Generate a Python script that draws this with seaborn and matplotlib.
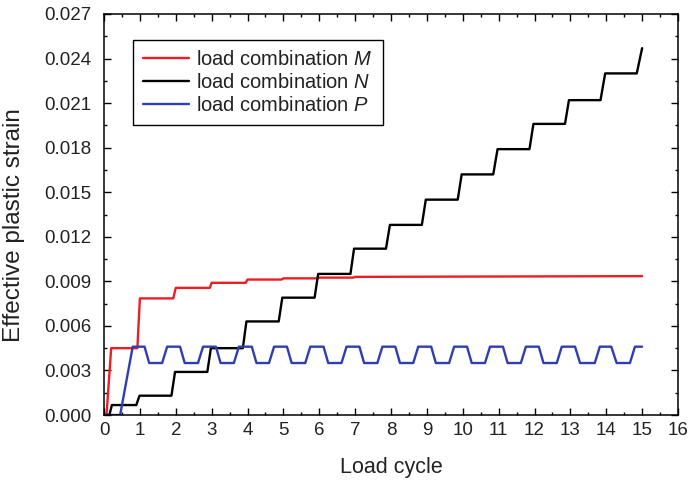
import matplotlib
matplotlib.use("Agg")
import matplotlib.pyplot as plt
from matplotlib.ticker import MultipleLocator, FormatStrFormatter
import seaborn as sns

# load combination M
red_x = [0.0, 0.07, 0.20, 0.93, 1.00, 1.93, 2.00, 2.95, 3.00, 3.95, 4.00,
         4.95, 5.00, 5.95, 6.00, 6.95, 7.00, 15.0]
red_y = [0.0, 0.0, 0.0045, 0.0045, 0.00785, 0.00785, 0.00856, 0.00856,
         0.0089, 0.0089, 0.00912, 0.00912, 0.0092, 0.0092, 0.00925, 0.00925,
         0.0093, 0.00935]

# load combination N
black_x = [0.0, 0.15, 0.22, 0.90, 0.99, 1.88, 1.98, 2.88, 2.98, 3.87, 3.97,
           4.87, 4.97, 5.87, 5.97, 6.87, 6.97, 7.86, 7.97, 8.86, 8.97, 9.86,
           9.97, 10.85, 10.97, 11.86, 11.97, 12.85, 12.96, 13.84, 13.97,
           14.85, 15.0]
black_y = [0.0, 0.0, 0.00067, 0.00067, 0.0013, 0.0013, 0.0029, 0.0029,
           0.0045, 0.0045, 0.0063, 0.0063, 0.0079, 0.0079, 0.0095, 0.0095,
           0.0112, 0.0112, 0.0128, 0.0128, 0.0145, 0.0145, 0.0162, 0.0162,
           0.0179, 0.0179, 0.0196, 0.0196, 0.0212, 0.0212, 0.0230, 0.0230,
           0.0247]

# load combination P
blue_x = [0.0, 0.45, 0.80,
          1.13, 1.26, 1.62, 1.76,
          2.12, 2.25, 2.62, 2.76,
          3.12, 3.25, 3.62, 3.76,
          4.12, 4.25, 4.60, 4.74,
          5.10, 5.23, 5.61, 5.75,
          6.12, 6.25, 6.62, 6.76,
          7.12, 7.25, 7.62, 7.76,
          8.12, 8.25, 8.62, 8.76,
          9.12, 9.25, 9.62, 9.76,
          10.12, 10.25, 10.62, 10.76,
          11.12, 11.25, 11.62, 11.76,
          12.12, 12.25, 12.62, 12.76,
          13.13, 13.27, 13.68, 13.82,
          14.14, 14.29, 14.66, 14.80,
          15.0]
blue_y = [0.0, 0.0, 0.0046,
          0.0046, 0.0035, 0.0035, 0.0046,
          0.0046, 0.0035, 0.0035, 0.0046,
          0.0046, 0.0035, 0.0035, 0.0046,
          0.0046, 0.0035, 0.0035, 0.0046,
          0.0046, 0.0035, 0.0035, 0.0046,
          0.0046, 0.0035, 0.0035, 0.0046,
          0.0046, 0.0035, 0.0035, 0.0046,
          0.0046, 0.0035, 0.0035, 0.0046,
          0.0046, 0.0035, 0.0035, 0.0046,
          0.0046, 0.0035, 0.0035, 0.0046,
          0.0046, 0.0035, 0.0035, 0.0046,
          0.0046, 0.0035, 0.0035, 0.0046,
          0.0046, 0.0035, 0.0035, 0.0046,
          0.0046, 0.0035, 0.0035, 0.0046,
          0.0046]

labels = ["load combination $\\it{M}$", "load combination $\\it{N}$",
          "load combination $\\it{P}$"]
colors = ["#ee1d23", "#000000", "#2e3db4"]

sns.set_style("ticks")
plt.rcParams["font.family"] = ["Liberation Sans", "DejaVu Sans"]
plt.rcParams["mathtext.fontset"] = "custom"
plt.rcParams["mathtext.it"] = "Liberation Sans:italic"
plt.rcParams["mathtext.rm"] = "Liberation Sans"

fig = plt.figure(figsize=(6.9, 4.8), dpi=100)
ax = fig.add_axes([104 / 690, 1 - 415 / 480, 574 / 690, 401 / 480])

for xs, ys, c, lab in zip([red_x, black_x, blue_x], [red_y, black_y, blue_y],
                          colors, labels):
  sns.lineplot(x=xs, y=ys, color=c, label=lab, sort=False, estimator=None,
               linewidth=1.7, ax=ax)

ax.set_xlim(0, 16)
ax.set_ylim(0, 0.027)
ax.xaxis.set_major_locator(MultipleLocator(1))
ax.xaxis.set_minor_locator(MultipleLocator(0.5))
ax.yaxis.set_major_locator(MultipleLocator(0.003))
ax.yaxis.set_minor_locator(MultipleLocator(0.0015))
ax.yaxis.set_major_formatter(FormatStrFormatter("%.3f"))
ax.tick_params(which="both", direction="in", top=True, right=True,
               color="black", width=1.0, labelcolor="#222222")
ax.tick_params(which="major", length=5, labelsize=13.5)
ax.tick_params(axis="y", which="major", pad=9)
ax.tick_params(axis="x", which="major", pad=5)
ax.tick_params(which="minor", length=2.5)
for s in ax.spines.values():
  s.set_color("black")
  s.set_linewidth(1.1)

ax.set_xlabel("Load cycle", fontsize=15.5, labelpad=13, color="#222222")
ax.set_ylabel("Effective plastic strain", fontsize=17.5, color="#222222")
ax.yaxis.set_label_coords(-0.137, 0.474)

leg = ax.legend(loc="upper left", bbox_to_anchor=(0.05, 0.935),
                borderaxespad=0, fontsize=14.5, handlelength=2.3,
                handletextpad=0.35, labelspacing=0.2, borderpad=0.5,
                fancybox=False, framealpha=1)
leg.get_frame().set_edgecolor("black")
leg.get_frame().set_linewidth(1.0)
for t in leg.get_texts():
  t.set_color("#222222")

plt.savefig("out.png", dpi=100)
